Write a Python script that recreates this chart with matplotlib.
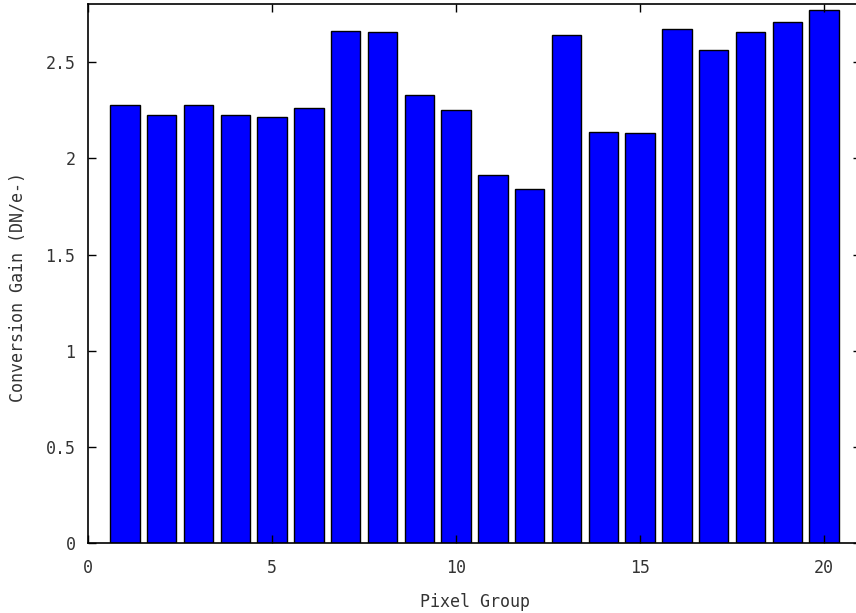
import numpy as np
import matplotlib.pyplot as plt

# ----------------------------------------------------------------------
# DATA
# ----------------------------------------------------------------------
pixel_group = np.arange(1, 21)
gain = [2.277, 2.226, 2.277, 2.226, 2.217, 2.261, 2.663, 2.656, 2.330, 2.252,
        1.911, 1.840, 2.642, 2.138, 2.133, 2.672, 2.560, 2.656, 2.708, 2.772]

x_ticks = [0, 5, 10, 15, 20]
y_ticks = [0, 0.5, 1, 1.5, 2, 2.5]
y_tick_labels = ["0", "0.5", "1", "1.5", "2", "2.5"]

# ----------------------------------------------------------------------
# PLOT
# ----------------------------------------------------------------------
plt.rcParams["font.family"] = "DejaVu Sans Mono"
TXT = "#333333"

W, H = 856, 613
fig = plt.figure(figsize=(W / 100, H / 100), dpi=100)
left, right, top, bottom = 88, 861, 4.3, 543.3
ax = fig.add_axes([left / W, (H - bottom) / H, (right - left) / W, (bottom - top) / H])

ax.bar(pixel_group, gain, width=0.8, color="#0000ff", edgecolor="black", linewidth=1.0)

ax.set_xlim(0, 21)
ax.set_ylim(0, 2.8)
ax.set_xticks(x_ticks)
ax.set_yticks(y_ticks)
ax.set_yticklabels(y_tick_labels)

ax.tick_params(direction="in", length=6, width=1, color="black",
               top=True, right=True, labelsize=12, labelcolor=TXT)
ax.tick_params(axis="x", pad=11)
ax.tick_params(axis="y", pad=9)
for s in ax.spines.values():
    s.set_linewidth(1.2)

ax.set_xlabel("Pixel Group", fontsize=12, color=TXT)
ax.set_ylabel("Conversion Gain (DN/e-)", fontsize=12, color=TXT)
ax.xaxis.set_label_coords(0.5, -0.092)
ax.yaxis.set_label_coords(-0.079, 0.476)

fig.savefig("out.png", dpi=100)
